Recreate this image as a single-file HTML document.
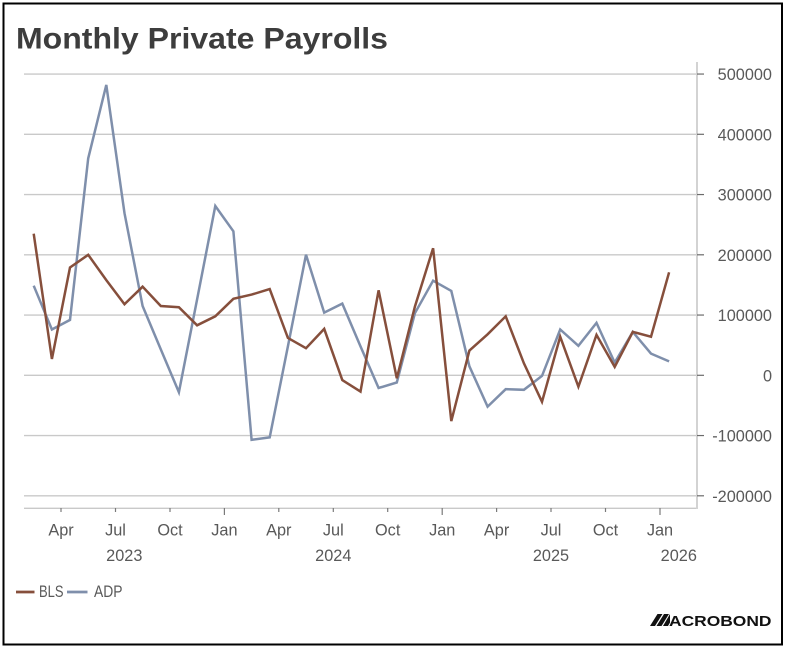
<!DOCTYPE html>
<html><head><meta charset="utf-8"><style>
html,body{margin:0;padding:0;background:#fff;}
svg{display:block;}
text{font-family:"Liberation Sans",sans-serif;}
</style></head><body>
<svg width="785" height="649" viewBox="0 0 785 649" xmlns="http://www.w3.org/2000/svg">
<rect x="0" y="0" width="785" height="649" fill="#fff"/>
<rect x="3.5" y="3.5" width="778.5" height="641" fill="none" stroke="#000" stroke-width="2"/>
<text x="16" y="48.5" font-size="30" font-weight="bold" fill="#3d3d3d" textLength="372" lengthAdjust="spacingAndGlyphs">Monthly Private Payrolls</text>
<!-- gridlines -->
<g stroke="#c9c9c9" stroke-width="1.3">
<line x1="24" y1="74.05" x2="697" y2="74.05"/>
<line x1="24" y1="134.3" x2="697" y2="134.3"/>
<line x1="24" y1="194.55" x2="697" y2="194.55"/>
<line x1="24" y1="254.8" x2="697" y2="254.8"/>
<line x1="24" y1="315.05" x2="697" y2="315.05"/>
<line x1="24" y1="375.3" x2="697" y2="375.3"/>
<line x1="24" y1="435.55" x2="697" y2="435.55"/>
<line x1="24" y1="495.8" x2="697" y2="495.8"/>
<line x1="24" y1="508.3" x2="697" y2="508.3"/>
</g>
<line x1="697" y1="62" x2="697" y2="509" stroke="#d3d3d3" stroke-width="2"/>
<!-- y ticks -->
<g stroke="#6b6b6b" stroke-width="1.2">
<line x1="697" y1="74.05" x2="704" y2="74.05"/>
<line x1="697" y1="134.3" x2="704" y2="134.3"/>
<line x1="697" y1="194.55" x2="704" y2="194.55"/>
<line x1="697" y1="254.8" x2="704" y2="254.8"/>
<line x1="697" y1="315.05" x2="704" y2="315.05"/>
<line x1="697" y1="375.3" x2="704" y2="375.3"/>
<line x1="697" y1="435.55" x2="704" y2="435.55"/>
<line x1="697" y1="495.8" x2="704" y2="495.8"/>
</g>
<g font-size="16.3" fill="#595959" text-anchor="end">
<text x="772" y="80">500000</text>
<text x="772" y="140.3">400000</text>
<text x="772" y="200.5">300000</text>
<text x="772" y="260.8">200000</text>
<text x="772" y="321">100000</text>
<text x="772" y="381.3">0</text>
<text x="772" y="441.5">-100000</text>
<text x="772" y="501.8">-200000</text>
</g>
<!-- x ticks -->
<g stroke="#7a7a7a" stroke-width="1.2">
<line x1="61" y1="508" x2="61" y2="512"/>
<line x1="115.5" y1="508" x2="115.5" y2="512"/>
<line x1="170" y1="508" x2="170" y2="512"/>
<line x1="224.4" y1="508" x2="224.4" y2="515"/>
<line x1="278.8" y1="508" x2="278.8" y2="512"/>
<line x1="333.3" y1="508" x2="333.3" y2="512"/>
<line x1="387.7" y1="508" x2="387.7" y2="512"/>
<line x1="442.2" y1="508" x2="442.2" y2="515"/>
<line x1="496.6" y1="508" x2="496.6" y2="512"/>
<line x1="551" y1="508" x2="551" y2="512"/>
<line x1="605.5" y1="508" x2="605.5" y2="512"/>
<line x1="660" y1="508" x2="660" y2="515"/>
</g>
<g font-size="16.3" fill="#595959" text-anchor="middle">
<text x="61" y="535.5">Apr</text>
<text x="115.5" y="535.5">Jul</text>
<text x="170" y="535.5">Oct</text>
<text x="224.4" y="535.5">Jan</text>
<text x="278.8" y="535.5">Apr</text>
<text x="333.3" y="535.5">Jul</text>
<text x="387.7" y="535.5">Oct</text>
<text x="442.2" y="535.5">Jan</text>
<text x="496.6" y="535.5">Apr</text>
<text x="551" y="535.5">Jul</text>
<text x="605.5" y="535.5">Oct</text>
<text x="660" y="535.5">Jan</text>
<text x="124.3" y="561">2023</text>
<text x="333.3" y="561">2024</text>
<text x="551" y="561">2025</text>
<text x="678.8" y="561">2026</text>
</g>
<!-- series -->
<polyline fill="none" stroke="#7f8fab" stroke-width="2.5" stroke-linejoin="miter" points="33.7,285.7 51.9,329.5 70.0,319.9 88.2,158.4 106.3,84.9 124.5,213.2 142.6,306.0 160.8,349.4 178.9,392.2 197.1,299.4 215.3,206.0 233.4,231.3 251.6,439.8 269.7,437.4 287.9,346.4 306.0,254.8 324.2,312.6 342.3,303.6 360.5,346.4 378.6,388.0 396.8,382.5 414.9,313.2 433.1,280.7 451.3,290.9 469.4,366.3 487.6,406.6 505.7,389.2 523.9,389.8 542.0,375.9 560.2,329.5 578.4,345.8 596.5,322.9 614.7,362.6 632.8,331.9 651.0,353.6 669.1,361.4"/>
<polyline fill="none" stroke="#864f3c" stroke-width="2.5" stroke-linejoin="miter" points="33.7,233.7 51.9,359.0 70.0,267.5 88.2,254.8 106.3,280.1 124.5,304.2 142.6,286.7 160.8,306.0 178.9,307.2 197.1,325.3 215.3,316.3 233.4,298.8 251.6,294.6 269.7,289.1 287.9,337.9 306.0,348.2 324.2,328.9 342.3,380.1 360.5,391.6 378.6,290.3 396.8,378.3 414.9,306.6 433.1,248.2 451.3,421.1 469.4,350.6 487.6,334.3 505.7,316.3 523.9,363.3 542.0,401.8 560.2,336.7 578.4,386.7 596.5,334.9 614.7,366.9 632.8,331.9 651.0,336.7 669.1,272.3"/>
<!-- legend -->
<line x1="16" y1="592" x2="34.5" y2="592" stroke="#864f3c" stroke-width="2.8"/>
<text x="39" y="597" font-size="16.3" fill="#595959" textLength="24.5" lengthAdjust="spacingAndGlyphs">BLS</text>
<line x1="67" y1="592" x2="87.5" y2="592" stroke="#7f8fab" stroke-width="2.8"/>
<text x="94" y="597" font-size="16.3" fill="#595959" textLength="28.5" lengthAdjust="spacingAndGlyphs">ADP</text>
<!-- logo -->
<g fill="#111">
<polygon points="650,626 655,626 662.5,614 657.5,614"/>
<polygon points="656.5,626 661.5,626 669,614 664,614"/>
<polygon points="663,626 668,626 670,622.5 670,614"/>
</g>
<text x="669" y="626" font-size="15" font-weight="bold" fill="#111" textLength="102.5" lengthAdjust="spacingAndGlyphs">ACROBOND</text>
</svg>
</body></html>
